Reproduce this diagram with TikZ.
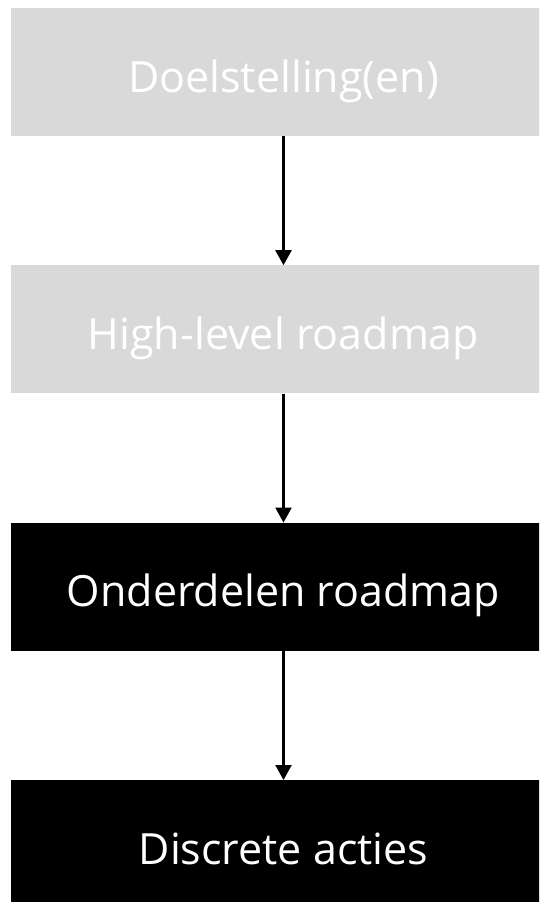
\documentclass[tikz,border=0pt]{standalone}
\usepackage{fontspec}
\setmainfont{Open Sans}
\usetikzlibrary{positioning,arrows.meta}
\definecolor{lichtgrijs}{HTML}{D9D9D9}
\begin{document}
\begin{tikzpicture}[>={Triangle[width=16pt,length=15pt]},
    blok/.style={minimum width=545pt,minimum height=128pt,inner sep=0pt,
      text height=40pt,text depth=0pt,
      text=white,font=\fontsize{43}{50}\selectfont},
    grijs/.style={blok,fill=lichtgrijs},
    zwart/.style={blok,fill=black},
    node distance=129pt]
            \useasboundingbox (0pt,0pt) rectangle (539pt,-902pt);
            \clip (0pt,0pt) rectangle (539pt,-902pt);
            \node[grijs] (doel) at (283.5pt,-72pt) {Doelstelling(en)};
            \node[grijs,below=of doel] (high) {High-level roadmap};
            \node[zwart,below=of high] (onder) {Onderdelen roadmap};
            \node[zwart,below=of onder] (acties) {Discrete acties};
            \draw [->,line width=2.2pt] (doel) -- (high);
            \draw [->,line width=2.2pt] (high) -- (onder);
            \draw [->,line width=2.2pt] (onder) -- (acties);
    \end{tikzpicture}
\end{document}
